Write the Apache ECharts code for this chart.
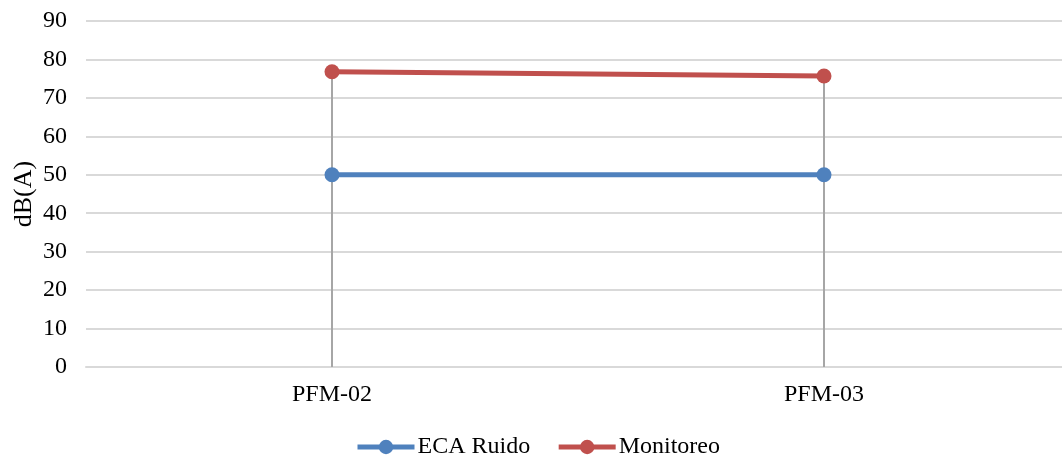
<!DOCTYPE html>
<html><head><meta charset="utf-8">
<script src="https://cdn.jsdelivr.net/npm/echarts@6/dist/echarts.min.js"></script>
<style>html,body{margin:0;padding:0;background:#fff}#c{width:1062px;height:459px}</style>
</head><body><div id="c"></div>
<script>
const categories = ['PFM-02', 'PFM-03'];
const ecaRuido = [50, 50];
const monitoreo = [76.8, 75.7];
const yTicks = {min: 0, max: 90, interval: 10};

const font = '"Liberation Serif", "Times New Roman", serif';
const chart = echarts.init(document.getElementById('c'));
const dropLines = categories.map((c, i) => [
  {coord: [c, Math.max(monitoreo[i], ecaRuido[i])]},
  {coord: [c, 0]}
]);
chart.setOption({
  animation: false,
  textStyle: {fontFamily: font},
  grid: {left: 86, top: 21, width: 984, bottom: 92, containLabel: false, outerBoundsMode: 'none'},
  legend: {
    top: 430, left: 350, itemWidth: 57, itemHeight: 18, itemGap: 26,
    textStyle: {fontFamily: font, fontSize: 24, color: '#000', padding: [0, 0, 0, -2]},
    lineStyle: {width: 5},
    data: ['ECA Ruido', 'Monitoreo']
  },
  xAxis: {
    type: 'category', data: categories, boundaryGap: true,
    axisLine: {lineStyle: {color: '#d9d9d9', width: 2}},
    axisTick: {show: false},
    axisLabel: {fontFamily: font, fontSize: 24, color: '#000', margin: 16}
  },
  yAxis: {
    type: 'value', min: yTicks.min, max: yTicks.max, interval: yTicks.interval,
    name: 'dB(A)', nameLocation: 'middle', nameGap: 49, nameRotate: 90,
    nameMoveOverlap: false,
    nameTextStyle: {fontFamily: font, fontSize: 26, color: '#000'},
    axisLine: {show: false}, axisTick: {show: false},
    axisLabel: {fontFamily: font, fontSize: 24, color: '#000', margin: 19},
    splitLine: {lineStyle: {color: '#d9d9d9', width: 2}}
  },
  series: [
    {
      name: 'Monitoreo', type: 'line', data: monitoreo, z: 3,
      symbol: 'circle', symbolSize: 15,
      lineStyle: {color: '#c0504d', width: 5},
      itemStyle: {color: '#c0504d'},
      markLine: {
        silent: true, symbol: 'none', label: {show: false}, z: 1,
        lineStyle: {color: '#a6a6a6', width: 2, type: 'solid'},
        data: dropLines
      }
    },
    {
      name: 'ECA Ruido', type: 'line', data: ecaRuido, z: 4,
      symbol: 'circle', symbolSize: 15,
      lineStyle: {color: '#4f81bd', width: 5},
      itemStyle: {color: '#4f81bd'}
    }
  ]
});
</script></body></html>
